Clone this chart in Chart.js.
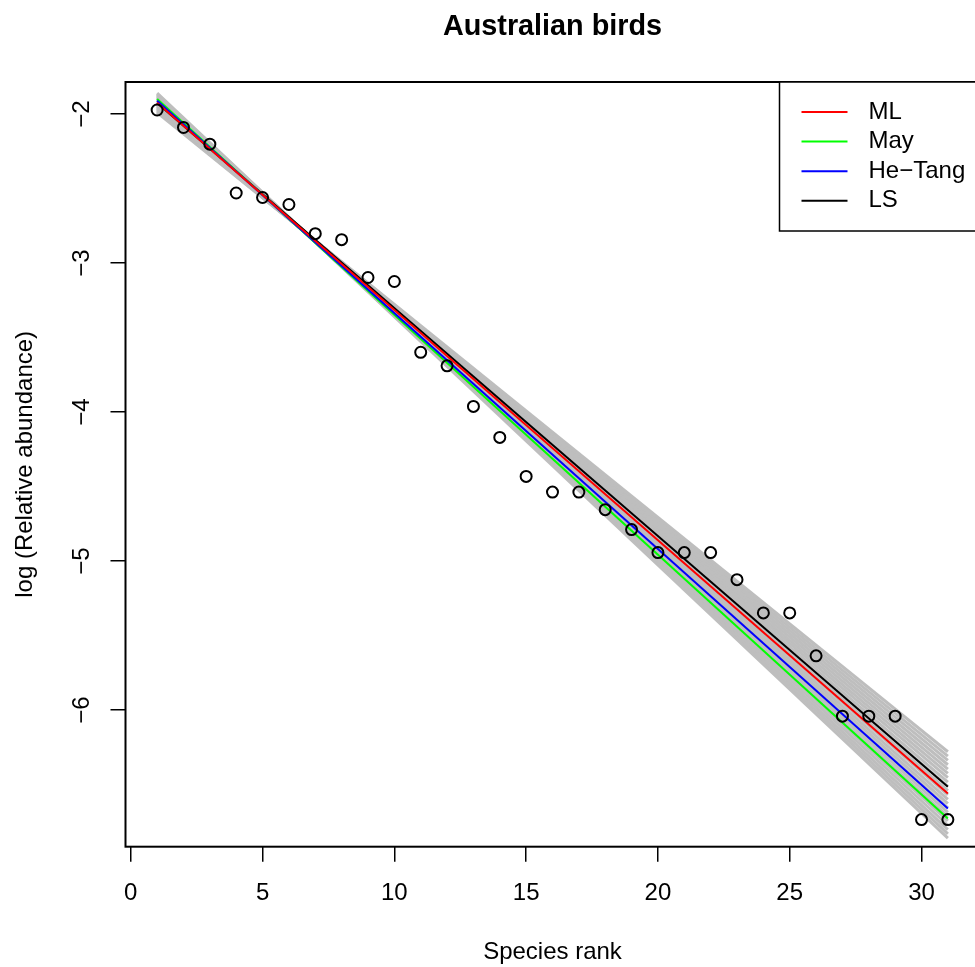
<!DOCTYPE html>
<html>
<head>
<meta charset="utf-8">
<script src="https://cdn.jsdelivr.net/npm/chart.js@4"></script>
<style>
  html, body { margin: 0; padding: 0; background: #fff; overflow: hidden; }
  #wrap { width: 987px; height: 967px; }
</style>
</head>
<body>
<div id="wrap"><canvas id="rankChart" width="987" height="967"></canvas></div>
<script>
// species rank vs log relative abundance
const ranks = [1, 2, 3, 4, 5, 6, 7, 8, 9, 10, 11, 12, 13, 14, 15, 16, 17, 18, 19, 20,
  21, 22, 23, 24, 25, 26, 27, 28, 29, 30, 31];
const logAbund = [-1.973, -2.090, -2.202, -2.530, -2.560, -2.607, -2.803, -2.843, -3.097, -3.124,
  -3.599, -3.690, -3.962, -4.170, -4.432, -4.537, -4.537, -4.655, -4.789, -4.943,
  -4.943, -4.943, -5.125, -5.348, -5.348, -5.636, -6.041, -6.041, -6.041, -6.735, -6.735];

// fitted lines, value at rank 1 and at rank 31
const fitLabels = ['ML', 'May', 'He\u2212Tang', 'LS'];
const fitColors = ['#FF0000', '#00FF00', '#0000FF', '#000000'];
const fitStart = [-1.924, -1.899, -1.911, -1.926];
const fitEnd = [-6.560, -6.727, -6.660, -6.515];

// grey band of lines, value at rank 1 and at rank 31
const bandStart = [-1.860, -1.866, -1.873, -1.880, -1.886, -1.893, -1.899, -1.905, -1.912, -1.918, -1.925,
  -1.932, -1.938, -1.945, -1.951, -1.958, -1.964, -1.971, -1.977, -1.984, -1.990];
const bandEnd = [-6.860, -6.831, -6.802, -6.773, -6.744, -6.715, -6.686, -6.657, -6.628, -6.599, -6.570,
  -6.541, -6.512, -6.483, -6.454, -6.425, -6.396, -6.367, -6.338, -6.309, -6.280];

const xTicks = [0, 5, 10, 15, 20, 25, 30];
const yTicks = [-6, -5, -4, -3, -2];
const lineStart = 1, lineEnd = 31;

Chart.defaults.font.family = "'Liberation Sans', Arial, sans-serif";
Chart.defaults.color = '#000';

const datasets = [];
datasets.push({
  label: 'points',
  data: ranks.map((r, i) => ({ x: r, y: logAbund[i] })),
  showLine: false,
  pointRadius: 5.5,
  pointBorderWidth: 2,
  pointBorderColor: '#000',
  pointBackgroundColor: 'rgba(0,0,0,0)'
});
// draw order: first dataset ends up on top
[0, 2, 1, 3].forEach(i => {
  datasets.push({
    label: fitLabels[i],
    data: [{ x: lineStart, y: fitStart[i] }, { x: lineEnd, y: fitEnd[i] }],
    showLine: true,
    borderColor: fitColors[i],
    borderWidth: 2,
    pointRadius: 0
  });
});
bandStart.forEach((s, i) => {
  datasets.push({
    label: 'band' + i,
    data: [{ x: lineStart, y: s }, { x: lineEnd, y: bandEnd[i] }],
    showLine: true,
    borderColor: '#BEBEBE',
    borderWidth: 3,
    pointRadius: 0
  });
});

// title centred over the plot, box round the plot, legend in the top right corner
const boxAndLegend = {
  id: 'boxAndLegend',
  afterLayout(chart) {
    if (chart.titleBlock) {
      chart.titleBlock.left = chart.chartArea.left;
      chart.titleBlock.right = chart.chartArea.right;
      chart.titleBlock.width = chart.chartArea.right - chart.chartArea.left;
    }
  },
  afterDraw(chart) {
    const { ctx, chartArea: a } = chart;
    ctx.save();
    ctx.strokeStyle = '#000';
    ctx.lineWidth = 2;
    ctx.strokeRect(a.left, a.top, a.right - a.left, a.bottom - a.top);

    const left = a.right - 200, top = a.top;
    ctx.fillStyle = '#fff';
    ctx.fillRect(left, top, a.right - left, 149);
    ctx.lineWidth = 1.5;
    ctx.strokeRect(left, top, a.right - left, 149);
    ctx.font = "24px 'Liberation Sans', Arial, sans-serif";
    ctx.textBaseline = 'middle';
    ctx.textAlign = 'left';
    fitLabels.forEach((lab, i) => {
      const y = top + 30 + i * 29.6;
      ctx.strokeStyle = fitColors[i];
      ctx.lineWidth = 2;
      ctx.beginPath();
      ctx.moveTo(left + 22, y);
      ctx.lineTo(left + 68, y);
      ctx.stroke();
      ctx.fillStyle = '#000';
      ctx.fillText(lab, left + 89, y);
    });
    ctx.restore();
  }
};

new Chart(document.getElementById('rankChart'), {
  type: 'scatter',
  data: { datasets },
  options: {
    responsive: false,
    animation: false,
    layout: { padding: { left: 0, right: 0, top: 0, bottom: 0 } },
    plugins: {
      legend: { display: false },
      tooltip: { enabled: false },
      title: {
        display: true,
        text: 'Australian birds',
        color: '#000',
        font: { size: 28.8, weight: 'bold' },
        padding: { top: 10, bottom: 37.44 }
      }
    },
    scales: {
      x: {
        type: 'linear',
        min: -0.2,
        max: 32.2,
        afterBuildTicks: s => { s.ticks = xTicks.map(v => ({ value: v })); },
        afterFit: s => { s.height = 120.3; },
        grid: { display: true, drawOnChartArea: false, drawTicks: true, tickLength: 15, color: '#000', lineWidth: 1.5 },
        border: { display: false },
        ticks: { font: { size: 24 }, color: '#000', padding: 17.5, maxRotation: 0, autoSkip: false },
        title: { display: true, text: 'Species rank', font: { size: 24 }, color: '#000', padding: { top: 0, bottom: 0 } }
      },
      y: {
        type: 'linear',
        min: -6.917,
        max: -1.785,
        afterBuildTicks: s => { s.ticks = yTicks.map(v => ({ value: v })); },
        afterFit: s => { s.width = 125.5; },
        grid: { display: true, drawOnChartArea: false, drawTicks: true, tickLength: 15, color: '#000', lineWidth: 1.5 },
        border: { display: false },
        ticks: {
          font: { size: 24 }, color: '#000', padding: 14.3, autoSkip: false,
          minRotation: 90, maxRotation: 90, crossAlign: 'center',
          callback: v => String(v).replace('-', '\u2212')
        },
        title: { display: true, text: 'log (Relative abundance)', font: { size: 24 }, color: '#000', padding: { top: 11, bottom: 0 } }
      }
    }
  },
  plugins: [boxAndLegend]
});
</script>
</body>
</html>
